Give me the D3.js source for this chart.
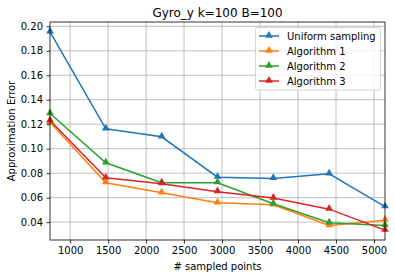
<!DOCTYPE html>
<html><head><meta charset="utf-8">
<script src="https://cdn.jsdelivr.net/npm/d3@7"></script>
<style>body{margin:0;background:#fff}svg{display:block}text{font-family:"DejaVu Sans",sans-serif;fill:#000}</style>
</head><body><svg id="c" width="395" height="278"></svg>
<script>
const xValues = [735, 1470, 2205, 2940, 3675, 4410, 5145];
const uniform = [0.1954, 0.1162, 0.1097, 0.0767, 0.0757, 0.0795, 0.0526];
const algo1 = [0.1216, 0.0722, 0.0640, 0.0558, 0.0542, 0.0372, 0.0416];
const algo2 = [0.1287, 0.0885, 0.0722, 0.0722, 0.0550, 0.0395, 0.0373];
const algo3 = [0.1230, 0.0762, 0.0714, 0.0649, 0.0597, 0.0506, 0.0335];
const seriesNames = ["Uniform sampling", "Algorithm 1", "Algorithm 2", "Algorithm 3"];
const colors = ["#1f77b4", "#ff7f0e", "#2ca02c", "#d62728"];
const xTicks = [1000, 1500, 2000, 2500, 3000, 3500, 4000, 4500, 5000];
const yTicks = [0.04, 0.06, 0.08, 0.10, 0.12, 0.14, 0.16, 0.18, 0.20];

const svg = d3.select("#c");
const L = 50, R = 385, T = 22, B = 240;
const all = [uniform, algo1, algo2, algo3];
const ymin = d3.min(all.flat()), ymax = d3.max(all.flat());
const pad = (ymax - ymin) * 0.05;
const x = d3.scaleLinear().domain([xValues[0], xValues[xValues.length-1]]).range([L, R]);
const y = d3.scaleLinear().domain([ymin - pad, ymax + pad]).range([B, T]);

const g = svg.append("g");
// grid
g.selectAll(".gx").data(xTicks).enter().append("line")
  .attr("x1", d => x(d)).attr("x2", d => x(d)).attr("y1", T).attr("y2", B)
  .attr("stroke", "#b0b0b0").attr("stroke-width", 0.8);
g.selectAll(".gy").data(yTicks).enter().append("line")
  .attr("y1", d => y(d)).attr("y2", d => y(d)).attr("x1", L).attr("x2", R)
  .attr("stroke", "#b0b0b0").attr("stroke-width", 0.8);

// axes
const xAxis = d3.axisBottom(x).tickValues(xTicks).tickSize(3.5).tickPadding(3.5).tickFormat(d3.format("d"));
const yAxis = d3.axisLeft(y).tickValues(yTicks).tickSize(3.5).tickPadding(3.5).tickFormat(d3.format(".2f"));
const gx = svg.append("g").attr("transform", `translate(0,${B})`).call(xAxis);
const gy = svg.append("g").attr("transform", `translate(${L},0)`).call(yAxis);
[gx, gy].forEach(a => {
  a.select(".domain").remove();
  a.selectAll("line").attr("stroke", "#000").attr("stroke-width", 0.8);
  a.selectAll("text").attr("font-size", 10).attr("font-family", "DejaVu Sans").attr("fill", "#000");
});

// lines
const line = d3.line().x((d, i) => x(xValues[i])).y(d => y(d));
const clip = svg.append("clipPath").attr("id", "clp").append("rect")
  .attr("x", L).attr("y", T).attr("width", R - L).attr("height", B - T);
const tri = d3.symbol().type(d3.symbolTriangle).size(26);
all.forEach((s, k) => {
  const sg = svg.append("g");
  sg.append("path").attr("d", line(s)).attr("fill", "none")
    .attr("stroke", colors[k]).attr("stroke-width", 1.5);
  sg.selectAll("path.m").data(s).enter().append("path").attr("class", "m")
    .attr("d", tri).attr("transform", (d, i) => `translate(${x(xValues[i])},${y(d) - 0.6})`)
    .attr("fill", colors[k]);
});

// frame
svg.append("rect").attr("x", L).attr("y", T).attr("width", R - L).attr("height", B - T)
  .attr("fill", "none").attr("stroke", "#000").attr("stroke-width", 0.8);

// title & labels
svg.append("text").attr("x", (L + R) / 2).attr("y", 17).attr("text-anchor", "middle")
  .attr("font-size", 12).text("Gyro_y k=100 B=100");
svg.append("text").attr("x", (L + R) / 2).attr("y", 270).attr("text-anchor", "middle")
  .attr("font-size", 10).text("# sampled points");
svg.append("text").attr("transform", `translate(15,${(T + B) / 2}) rotate(-90)`)
  .attr("text-anchor", "middle").attr("font-size", 10).text("Approximation Error");

// legend
const lg = svg.append("g");
lg.append("rect").attr("x", 255.5).attr("y", 27.5).attr("width", 125).attr("height", 62.5)
  .attr("rx", 2).attr("fill", "#fff").attr("fill-opacity", 0.8).attr("stroke", "#cccccc").attr("stroke-width", 0.8);
seriesNames.forEach((n, k) => {
  const yy = 36 + k * 15;
  lg.append("line").attr("x1", 259).attr("x2", 279).attr("y1", yy).attr("y2", yy)
    .attr("stroke", colors[k]).attr("stroke-width", 1.5);
  lg.append("path").attr("d", tri).attr("transform", `translate(269,${yy - 0.6})`).attr("fill", colors[k]);
  lg.append("text").attr("x", 287).attr("y", yy + 3.6).attr("font-size", 10).text(n);
});
</script></body></html>
